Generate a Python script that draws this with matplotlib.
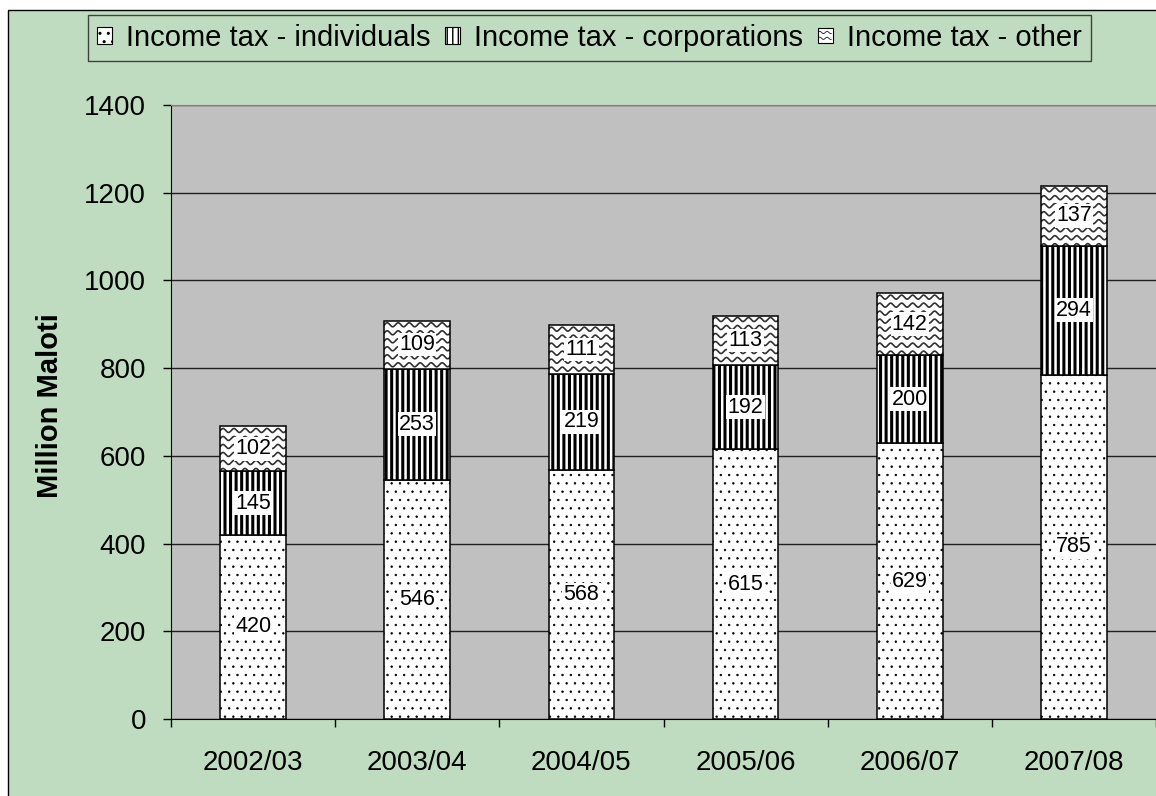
import numpy as np
import matplotlib
import matplotlib.pyplot as plt
from matplotlib.patches import Rectangle
from matplotlib.lines import Line2D
from matplotlib.legend_handler import HandlerBase

plt.rcParams['font.family'] = ['Liberation Sans', 'DejaVu Sans']

# data (million maloti)
years = ['2002/03', '2003/04', '2004/05', '2005/06', '2006/07', '2007/08']
individuals = [420, 546, 568, 615, 629, 785]
corporations = [145, 253, 219, 192, 200, 294]
other = [102, 109, 111, 113, 142, 137]
names = ['Income tax - individuals', 'Income tax - corporations', 'Income tax - other']
yticks = [0, 200, 400, 600, 800, 1000, 1200, 1400]

W, H = 1156, 796
GREEN = '#c0dcc0'
GREY = '#c0c0c0'


def wave_rows(x0, y0, x1, y1, step=8.0, period=11.0, amp=2.0):
    '''wavy hatch rows, pixel coordinates'''
    xs = np.arange(x0 - period, x1 + period, 0.5)
    rows = []
    y = y1 - step / 2
    while y > y0 - step:
        rows.append((xs, y + amp * np.sin(2 * np.pi * (xs - x0) / period)))
        y -= step
    return rows


class WaveHandler(HandlerBase):
    def create_artists(self, legend, orig, xd, yd, width, height, fontsize, trans):
        s = min(width, height)
        x0, y0 = -xd + (width - s) / 2, -yd + (height - s) / 2
        box = Rectangle((x0, y0), s, s, fc='white', ec='black', lw=0.8, transform=trans)
        arts = [box]
        xs = np.linspace(x0 + 1, x0 + s - 1, 20)
        for k in (0.3, 0.7):
            ys = y0 + k * s + 0.8 * np.sin(2 * np.pi * (xs - x0) / (s / 2))
            arts.append(Line2D(xs, ys, color='#333333', lw=0.7, transform=trans))
        return arts


fig = plt.figure(figsize=(W / 100, H / 100), dpi=100)
fig.patch.set_facecolor('white')
# green chart area with black border
fig.patches.append(Rectangle((8 / W, -0.1), 1.2, 1 - 10 / H + 0.1, transform=fig.transFigure,
                             fc=GREEN, ec='black', lw=1, zorder=-10))

ax = fig.add_axes([171 / W, (H - 719) / H, (W - 171) / W, (719 - 105) / H])
ax.set_facecolor(GREY)

x = np.arange(len(years))
bw = 0.40
ind = np.array(individuals)
cor = np.array(corporations)
oth = np.array(other)

with plt.rc_context({'hatch.linewidth': 0.5, 'hatch.color': '#202020'}):
    b1 = ax.bar(x, ind, bw, color='white', edgecolor='black', lw=1.1, hatch='..', zorder=3)
with plt.rc_context({'hatch.linewidth': 2.2, 'hatch.color': 'black'}):
    b2 = ax.bar(x, cor, bw, bottom=ind, color='white', edgecolor='black', lw=1.1, hatch='|||', zorder=3)
b3 = ax.bar(x, oth, bw, bottom=ind + cor, color='none', edgecolor='black', lw=1.1, zorder=3.6)

ax.set_xlim(-0.5, len(years) - 0.5)
ax.set_ylim(0, 1400)

# wavy fill for the "other" segments
for p in b3.patches:
    bg = Rectangle((p.get_x(), p.get_y()), p.get_width(), p.get_height(), fc='white', ec='none', zorder=3)
    ax.add_patch(bg)
    (px0, py0), (px1, py1) = ax.transData.transform([(p.get_x(), p.get_y()),
                                                     (p.get_x() + p.get_width(), p.get_y() + p.get_height())])
    for xs, ys in wave_rows(px0, py0, px1, py1):
        ln = Line2D(xs, ys, color='#303030', lw=1.2, transform=None, zorder=3.5)
        ax.add_line(ln)
        ln.set_clip_path(bg)

# value labels
for bars, vals in ((b1, ind), (b2, cor), (b3, oth)):
    for p, v in zip(bars.patches, vals):
        ax.text(p.get_x() + p.get_width() / 2, p.get_y() + p.get_height() / 2, str(v),
                ha='center', va='center', fontsize=15.5, zorder=5,
                bbox=dict(facecolor='white', edgecolor='none', pad=1.0))

ax.set_yticks(yticks)
ax.tick_params(axis='y', labelsize=20, length=6, width=1, direction='out', pad=12)
ax.yaxis.grid(True, color='#202020', lw=1)
ax.set_axisbelow(True)

ax.set_xticks(np.arange(len(years) + 1) - 0.5)
ax.set_xticklabels([])
ax.tick_params(axis='x', which='major', length=6, width=1, direction='out')
ax.set_xticks(x, minor=True)
ax.set_xticklabels(years, minor=True)
ax.tick_params(axis='x', which='minor', length=0, labelsize=20, pad=22)

ax.spines['right'].set_visible(False)
ax.spines['top'].set_color('#808080')
ax.spines['left'].set_color('black')
ax.spines['bottom'].set_color('black')

fig.text(50 / W, 1 - 406 / H, 'Million Maloti', rotation=90, ha='center', va='center',
         fontsize=21, fontweight='bold')

# legend
with plt.rc_context({'hatch.linewidth': 0.6}):
    h1 = Rectangle((0, 0), 1, 1, fc='white', ec='black', lw=0.8, hatch='..')
with plt.rc_context({'hatch.linewidth': 1.5}):
    h2 = Rectangle((0, 0), 1, 1, fc='white', ec='black', lw=0.8, hatch='|||')
h3 = Rectangle((0, 0), 1, 1, fc='white', ec='black')
leg = fig.legend([h1, h2, h3], names, loc='upper center',
                 bbox_to_anchor=((91 + 1088) / 2 / W, 1 - 15 / H), ncol=3, fontsize=21,
                 frameon=True, fancybox=False, shadow=False, handlelength=0.5, handleheight=0.5,
                 handletextpad=0.5, columnspacing=0.5, borderpad=0.3, borderaxespad=0,
                 handler_map={h3: WaveHandler()})
leg.get_frame().set_facecolor(GREEN)
leg.get_frame().set_edgecolor('#404040')
leg.get_frame().set_linewidth(1)
leg.get_frame().set_alpha(1)

fig.savefig('out.png', dpi=100, facecolor=fig.get_facecolor())
